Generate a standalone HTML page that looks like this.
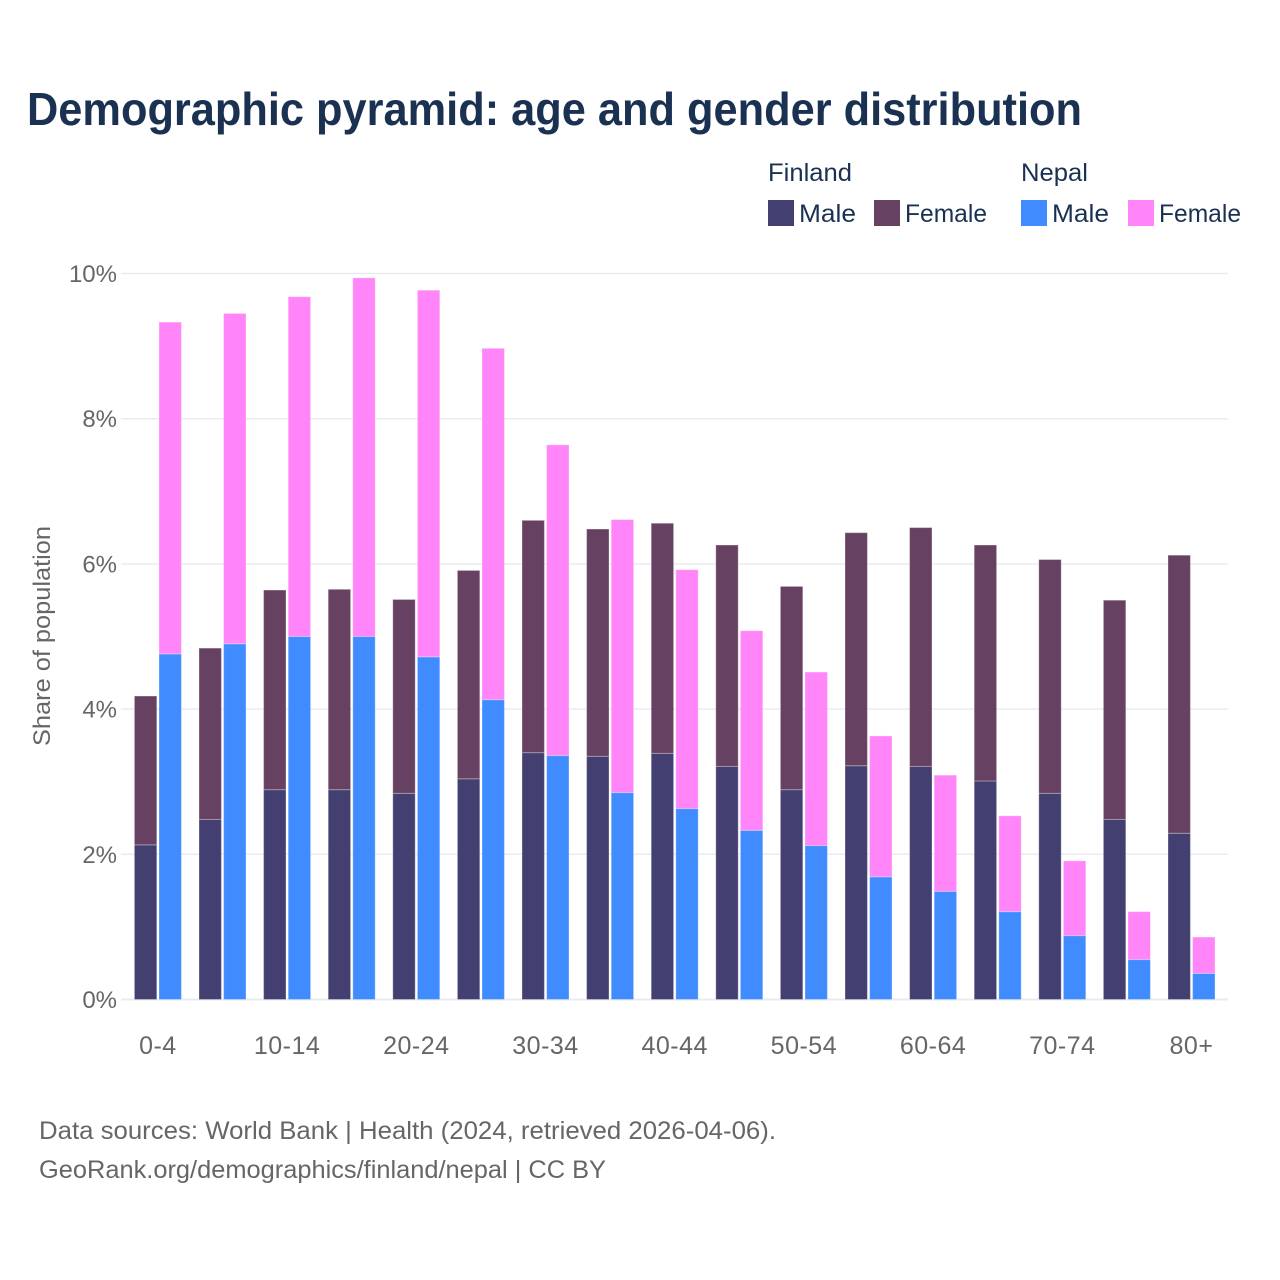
<!DOCTYPE html>
<html lang="en">
<head>
<meta charset="utf-8">
<title>Demographic pyramid: age and gender distribution</title>
<style>
  html, body { margin: 0; padding: 0; background: #fff; }
  svg { display: block; font-family: "Liberation Sans", sans-serif; }
</style>
</head>
<body>
<svg id="chart" xmlns="http://www.w3.org/2000/svg" width="1280" height="1280" viewBox="0 0 1280 1280">
  <rect width="1280" height="1280" fill="#ffffff"/>
  <text x="27" y="125" font-size="46" font-weight="700" fill="#1a3152" textLength="1055" lengthAdjust="spacingAndGlyphs">Demographic pyramid: age and gender distribution</text>

  <g font-size="25" fill="#1a3152">
    <text x="768" y="181" textLength="84" lengthAdjust="spacingAndGlyphs">Finland</text>
    <text x="1021" y="181" textLength="67" lengthAdjust="spacingAndGlyphs">Nepal</text>
    <rect x="768" y="200" width="26" height="26" fill="#433f70"/>
    <text x="799" y="222" textLength="57" lengthAdjust="spacingAndGlyphs">Male</text>
    <rect x="874" y="200" width="26" height="26" fill="#674162"/>
    <text x="905" y="222" textLength="82" lengthAdjust="spacingAndGlyphs">Female</text>
    <rect x="1021" y="200" width="26" height="26" fill="#408cff"/>
    <text x="1052" y="222" textLength="57" lengthAdjust="spacingAndGlyphs">Male</text>
    <rect x="1128" y="200" width="26" height="26" fill="#ff85f9"/>
    <text x="1159" y="222" textLength="82" lengthAdjust="spacingAndGlyphs">Female</text>
  </g>

  <g id="grid"></g>
  <g id="bars"></g>
  <g id="y-axis"></g>
  <g id="x-axis"></g>

  <text transform="translate(50,636) rotate(-90)" text-anchor="middle" font-size="24" fill="#666666" textLength="220" lengthAdjust="spacingAndGlyphs">Share of population</text>

  <text x="39" y="1139" font-size="25" fill="#666666" textLength="737" lengthAdjust="spacingAndGlyphs">Data sources: World Bank | Health (2024, retrieved 2026-04-06).</text>
  <text x="39" y="1178" font-size="25" fill="#666666" textLength="567" lengthAdjust="spacingAndGlyphs">GeoRank.org/demographics/finland/nepal | CC BY</text>
</svg>
<script>
const ageGroups = ["0-4","5-9","10-14","15-19","20-24","25-29","30-34","35-39","40-44","45-49","50-54","55-59","60-64","65-69","70-74","75-79","80+"];
const xTickLabels = ["0-4","10-14","20-24","30-34","40-44","50-54","60-64","70-74","80+"];
const yTickValues = [0, 2, 4, 6, 8, 10];
const finlandMale = [2.13,2.48,2.89,2.89,2.84,3.04,3.40,3.35,3.39,3.21,2.89,3.22,3.21,3.01,2.84,2.48,2.29];
const finlandFemale = [2.05,2.36,2.75,2.76,2.67,2.87,3.20,3.13,3.17,3.05,2.80,3.21,3.29,3.25,3.22,3.02,3.83];
const nepalMale = [4.76,4.90,5.00,5.00,4.72,4.13,3.36,2.85,2.63,2.33,2.12,1.69,1.49,1.21,0.88,0.55,0.36];
const nepalFemale = [4.57,4.55,4.68,4.94,5.05,4.84,4.28,3.76,3.29,2.75,2.39,1.94,1.60,1.32,1.03,0.66,0.50];

const SVG_NS = "http://www.w3.org/2000/svg";
const plot = { left: 126, right: 1228, y0: 999.5, y10: 273.5, firstCenter: 157.9, step: 64.6, barWidth: 22.4, barOffset: 12.3 };

function yScale(value) {
  return plot.y0 - (value / 10) * (plot.y0 - plot.y10);
}
function xCenter(index) {
  return plot.firstCenter + plot.step * index;
}
function make(tag, attrs, parent) {
  const el = document.createElementNS(SVG_NS, tag);
  for (const key in attrs) el.setAttribute(key, attrs[key]);
  parent.appendChild(el);
  return el;
}

const gridGroup = document.getElementById("grid");
const yAxisGroup = document.getElementById("y-axis");
yTickValues.forEach(function (tick) {
  const y = yScale(tick);
  const line = make("line", { x1: plot.left - 5, x2: plot.right, y1: y, y2: y, stroke: "#e9ebf0", "stroke-width": tick === 0 ? 2 : 1.5 }, gridGroup);
  
  
  const label = make("text", { x: 117, y: y + 8.5, "text-anchor": "end", "font-size": 24, fill: "#666666" }, yAxisGroup);
  label.textContent = tick + "%";
  
  
});

const xAxisGroup = document.getElementById("x-axis");
xTickLabels.forEach(function (text) {
  const label = make("text", { x: xCenter(ageGroups.indexOf(text)), y: 1054, "text-anchor": "middle", "font-size": 25, "letter-spacing": 0.5, fill: "#666666" }, xAxisGroup);
  label.textContent = text;
  
  
});

const barsGroup = document.getElementById("bars");
function drawBar(index, offset, start, value, color) {
  const top = yScale(start + value);
  const bottom = yScale(start);
  const bar = make("rect", {
    x: xCenter(index) + offset - plot.barWidth / 2,
    y: top,
    width: plot.barWidth,
    height: bottom - top,
    fill: color,
    stroke: "#ffffff",
    "stroke-opacity": 0.3,
    "stroke-width": 1
  }, barsGroup);
  return bar;
}
ageGroups.forEach(function (group, i) {
  const fm = drawBar(i, -plot.barOffset, 0, finlandMale[i], "#433f70");
  
  
  const ff = drawBar(i, -plot.barOffset, finlandMale[i], finlandFemale[i], "#674162");
  
  
  const nm = drawBar(i, plot.barOffset, 0, nepalMale[i], "#408cff");
  
  
  const nf = drawBar(i, plot.barOffset, nepalMale[i], nepalFemale[i], "#ff85f9");
  
  
});
</script>
</body>
</html>
